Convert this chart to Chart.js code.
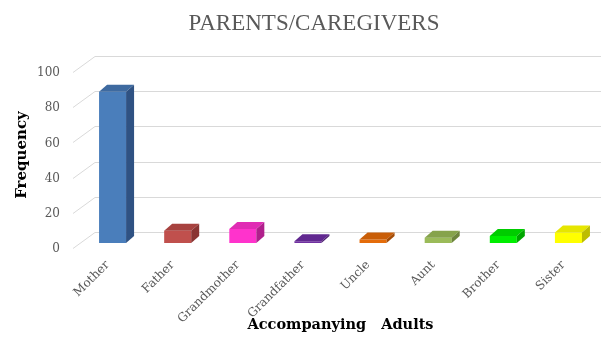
<!DOCTYPE html>
<html>
<head>
<meta charset="utf-8">
<script src="https://cdn.jsdelivr.net/npm/chart.js@4.4.1/dist/chart.umd.min.js"></script>
<style>
  html, body { margin: 0; padding: 0; background: #fff; }
  #wrap { width: 605px; height: 338px; position: relative; }
</style>
</head>
<body>
<div id="wrap"><canvas id="chart"></canvas></div>
<script>
const categories = ['Mother', 'Father', 'Grandmother', 'Grandfather', 'Uncle', 'Aunt', 'Brother', 'Sister'];
const frequency = [86, 7, 8, 1, 2, 3, 4, 6];
const yTicks = [0, 20, 40, 60, 80, 100];

const frontColors = ['#4a7ebb', '#c0504d', '#ff33cc', '#7030a0', '#e46c0a', '#9bbb59', '#00ee00', '#ffff00'];
const topColors   = ['#3e6aa0', '#a7423f', '#e02cb4', '#612890', '#c95e08', '#86a34b', '#00cc00', '#e6e600'];
const sideColors  = ['#2f5283', '#8a3432', '#b0208c', '#4d1f72', '#a44c06', '#6d853c', '#00a600', '#bdbd00'];

const GRID = '#d9d9d9';
const DEPTH_X = 8, DEPTH_Y = -7;       // bar depth
const WALL_X = 15, WALL_Y = -11;       // back wall offset from bar plane
const FRONT_X = -7, FRONT_Y = 5;       // front edge offset

const wall3d = {
  id: 'wall3d',
  beforeDatasetsDraw(chart) {
    const { ctx, chartArea, scales } = chart;
    const { left, right } = chartArea;
    ctx.save();
    ctx.strokeStyle = GRID;
    ctx.lineWidth = 1;
    yTicks.forEach(v => {
      const y = Math.round(scales.y.getPixelForValue(v)) + 0.5;
      ctx.beginPath();
      ctx.moveTo(left + FRONT_X, y + FRONT_Y);
      ctx.lineTo(left + WALL_X, y + WALL_Y);
      ctx.lineTo(right, y + WALL_Y);
      ctx.stroke();
    });
    ctx.restore();
  },
  afterDatasetsDraw(chart) {
    const { ctx } = chart;
    const meta = chart.getDatasetMeta(0);
    ctx.save();
    meta.data.forEach((bar, i) => {
      const { x, y, base, width } = bar.getProps(['x', 'y', 'base', 'width'], true);
      const l = x - width / 2, r = x + width / 2;
      // top face
      ctx.fillStyle = topColors[i];
      ctx.beginPath();
      ctx.moveTo(l, y);
      ctx.lineTo(l + DEPTH_X, y + DEPTH_Y);
      ctx.lineTo(r + DEPTH_X, y + DEPTH_Y);
      ctx.lineTo(r, y);
      ctx.closePath();
      ctx.fill();
      // side face
      ctx.fillStyle = sideColors[i];
      ctx.beginPath();
      ctx.moveTo(r, y);
      ctx.lineTo(r + DEPTH_X, y + DEPTH_Y);
      ctx.lineTo(r + DEPTH_X, base + DEPTH_Y);
      ctx.lineTo(r, base);
      ctx.closePath();
      ctx.fill();
    });
    ctx.restore();
  },
  afterDraw(chart) {
    const { ctx } = chart;
    ctx.save();
    ctx.fillStyle = '#595959';
    ctx.font = '23px "Liberation Serif"';
    ctx.textAlign = 'center';
    ctx.textBaseline = 'middle';
    ctx.fillText('PARENTS/CAREGIVERS', 314, 24);
    ctx.restore();
  }
};

new Chart(document.getElementById('chart'), {
  type: 'bar',
  data: {
    labels: categories,
    datasets: [{
      label: 'Frequency',
      data: frequency,
      backgroundColor: frontColors,
      borderWidth: 0,
      barPercentage: 0.415,
      categoryPercentage: 1.0,
    }],
  },
  options: {
    responsive: true,
    maintainAspectRatio: false,
    animation: false,
    layout: { padding: { top: 67, right: 4, left: 0, bottom: 0 } },
    plugins: {
      legend: { display: false },
      tooltip: { enabled: false },
      title: { display: false },
    },
    scales: {
      x: {
        grid: { display: false, drawTicks: false },
        border: { display: false },
        ticks: {
          color: '#595959',
          font: { family: 'DejaVu Serif', size: 12 },
          minRotation: 45,
          maxRotation: 45,
          padding: 15,
          labelOffset: -5,
        },
        title: {
          display: true,
          text: 'Accompanying   Adults',
          color: '#000',
          font: { family: 'DejaVu Serif', size: 14.5, weight: 'bold' },
          padding: { top: 0, bottom: 4 },
        },
        afterFit(scale) { scale.height = 95; },
      },
      y: {
        min: 0,
        max: 100,
        grid: { display: false, drawTicks: false },
        border: { display: false },
        ticks: {
          stepSize: 20,
          color: '#595959',
          font: { family: 'DejaVu Serif', size: 12 },
          padding: 20,
          labelOffset: 6,
        },
        title: {
          display: true,
          text: 'Frequency',
          color: '#000',
          font: { family: 'DejaVu Serif', size: 15, weight: 'bold' },
          padding: { top: 13, bottom: 0 },
        },
        afterFit(scale) { scale.width = 80; },
      },
    },
  },
  plugins: [wall3d],
});
</script>
</body>
</html>
